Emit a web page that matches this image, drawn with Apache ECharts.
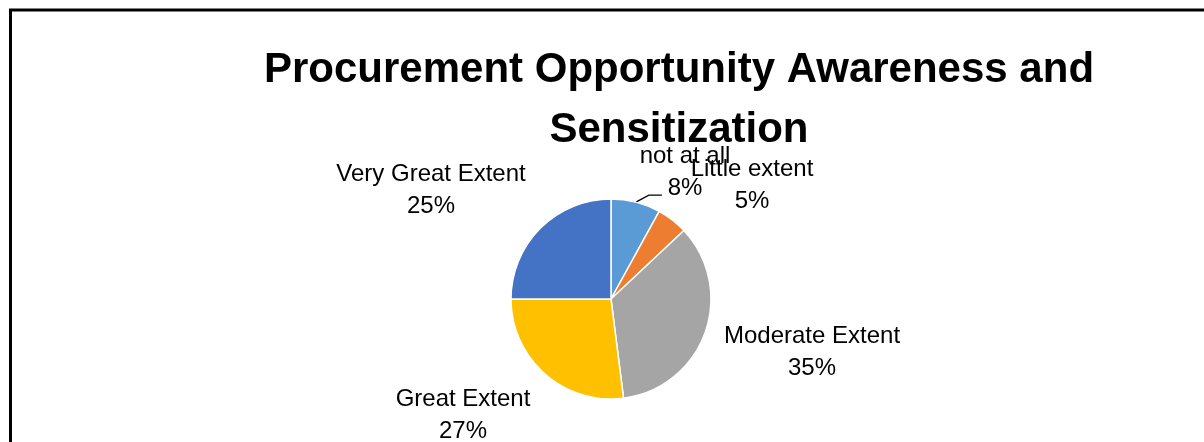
<!DOCTYPE html>
<html>
<head>
<meta charset="utf-8">
<script src="https://cdn.jsdelivr.net/npm/echarts@6/dist/echarts.min.js"></script>
<style>
  html, body { margin: 0; padding: 0; background: #fff; overflow: hidden; }
  #chart-pie { width: 1204px; height: 442px; }
</style>
</head>
<body>
<div id="chart-pie"></div>
<script>
// 数据
var CATEGORIES = ['not at all', 'Little extent', 'Moderate Extent', 'Great Extent', 'Very Great Extent'];
var VALUES = [8, 5, 35, 27, 25];
var COLORS = ['#5B9BD5', '#ED7D31', '#A5A5A5', '#FFC000', '#4472C4'];

// 标签位置（中心点）
var LABEL_POS = [[685, 172], [752, 185], [812, 352], [463, 415], [431, 190]];

var FONT = '"Liberation Sans", Arial, sans-serif';
var CENTER = [611, 299];
var RADIUS = 100;

var chart = echarts.init(document.getElementById('chart-pie'));

var pieData = CATEGORIES.map(function (name, i) {
  return {
    name: name,
    value: VALUES[i],
    itemStyle: { color: COLORS[i] },
    labelLine: { show: i === 0 }
  };
});

// 引导线：从扇区外缘中点折向标签
function leaderPoints(index) {
  var total = VALUES.reduce(function (a, b) { return a + b; }, 0);
  var before = 0;
  for (var k = 0; k < index; k++) before += VALUES[k];
  var mid = (before + VALUES[index] / 2) / total * Math.PI * 2;
  var sx = CENTER[0] + RADIUS * Math.sin(mid);
  var sy = CENTER[1] - RADIUS * Math.cos(mid);
  return [[sx, sy], [sx + 13, sy - 7], [sx + 26, sy - 7]];
}

chart.setOption({
  animation: false,
  title: {
    text: 'Procurement Opportunity Awareness and\nSensitization',
    left: 674,
    top: 35,
    textAlign: 'center',
    textStyle: {
      fontFamily: FONT,
      fontWeight: 'bold',
      fontSize: 42,
      lineHeight: 60,
      color: '#000'
    }
  },
  graphic: [{
    type: 'rect',
    shape: { x: 10.5, y: 10, width: 1400, height: 600 },
    style: { fill: 'none', stroke: '#000', lineWidth: 3 }
  }],
  series: [{
    type: 'pie',
    center: CENTER,
    radius: RADIUS,
    startAngle: 90,
    clockwise: true,
    data: pieData,
    itemStyle: { borderColor: '#fff', borderWidth: 1.5 },
    label: {
      show: true,
      position: 'outside',
      formatter: '{b}\n{d}%',
      fontFamily: FONT,
      fontSize: 24,
      lineHeight: 32,
      color: '#000',
      align: 'center'
    },
    labelLine: {
      show: true,
      length: 10,
      length2: 14,
      lineStyle: { color: '#000', width: 1.3 }
    },
    labelLayout: function (params) {
      var p = LABEL_POS[params.dataIndex];
      var res = {
        x: p[0],
        y: p[1],
        align: 'center',
        verticalAlign: 'middle'
      };
      if (params.dataIndex === 0) res.labelLinePoints = leaderPoints(0);
      return res;
    }
  }]
});
</script>
</body>
</html>
